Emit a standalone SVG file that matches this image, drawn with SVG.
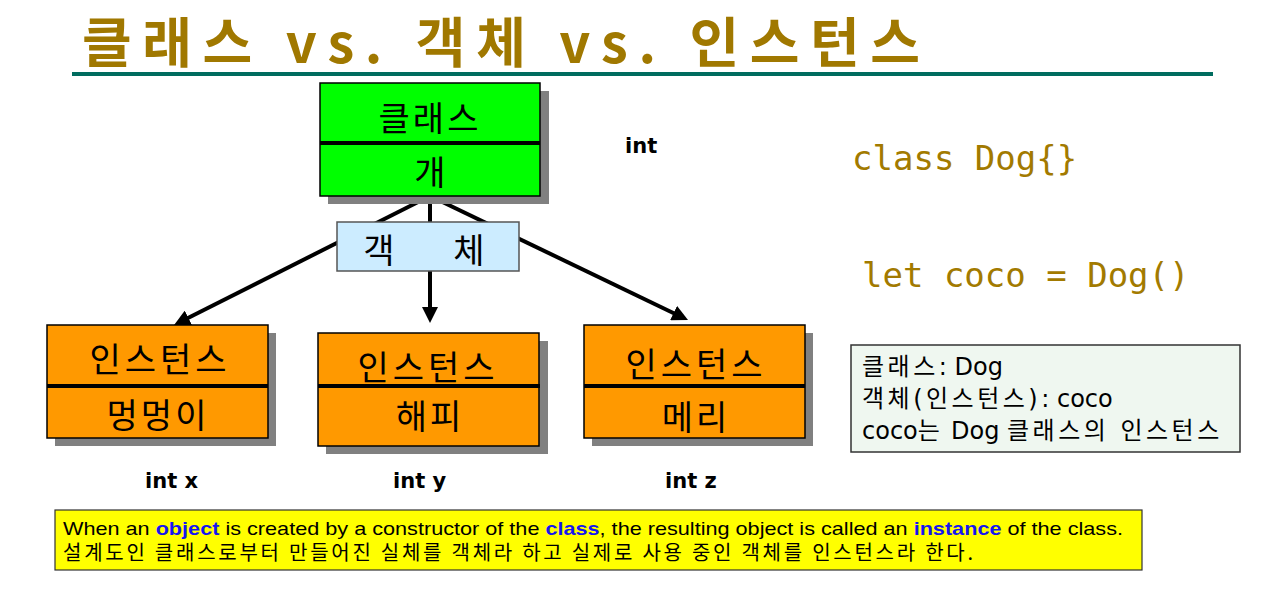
<svg xmlns="http://www.w3.org/2000/svg" width="1273" height="596" viewBox="0 0 1273 596">
<style>
.kr{font-family:"Noto Sans CJK KR","Noto Sans",sans-serif;}
.lbl{font-family:"Noto Sans CJK KR","Noto Sans",sans-serif;font-size:34px;fill:#000;text-anchor:middle;dominant-baseline:central;}
.int{font-family:"DejaVu Sans",sans-serif;font-weight:bold;font-size:21px;fill:#000;}
.code{font-family:"DejaVu Sans Mono","Liberation Mono",monospace;font-size:34px;fill:#A27A00;}
.note{font-family:"DejaVu Sans","Noto Sans CJK KR",sans-serif;font-size:24px;fill:#000;}
.nk{letter-spacing:3.5px;}
.shadow{fill:#808080;}
.orange{fill:#FF9900;stroke:#000;stroke-width:1.5;}
.div{stroke:#000;stroke-width:4;}
.conn{stroke:#000;stroke-width:4;fill:none;}
.hl{fill:#1515F0;font-weight:bold;}
</style>
<defs>
<marker id="arr" markerUnits="userSpaceOnUse" markerWidth="16" markerHeight="16" refX="6" refY="8" orient="auto" viewBox="0 0 16 16">
<path d="M0,0 L16,8 L0,16 z" fill="#000"/>
</marker>
</defs>
<rect width="1273" height="596" fill="#fff"/>
<g id="title">
<text x="82" y="63" class="kr" font-size="54" font-weight="bold" fill="#A07800" textLength="838" lengthAdjust="spacing">클래스 vs. 객체 vs. 인스턴스</text>
<rect x="72" y="72" width="1141" height="4" fill="#006C5F"/>
</g>
<g id="connectors">
<line class="conn" x1="430" y1="196" x2="183" y2="320.5" marker-end="url(#arr)"/>
<line class="conn" x1="430" y1="196" x2="430" y2="313" marker-end="url(#arr)"/>
<line class="conn" x1="430" y1="196" x2="679" y2="315.7" marker-end="url(#arr)"/>
</g>
<g id="class-node">
<rect class="shadow" x="328" y="91" width="221" height="113"/>
<rect x="320" y="83" width="220" height="113" fill="#00FF00" stroke="#000" stroke-width="1.5"/>
<line class="div" x1="320" y1="143" x2="540" y2="143"/>
<text class="lbl" x="430" y="116" letter-spacing="3">클래스</text>
<text class="lbl" x="430" y="170">개</text>
</g>
<g id="object-node">
<rect x="337" y="222" width="182" height="49" fill="#CCECFF" stroke="#555" stroke-width="1.5"/>
<text class="lbl" x="379" y="248">객</text>
<text class="lbl" x="469" y="248">체</text>
</g>
<g id="instance1">
<rect class="shadow" x="55" y="333" width="221" height="113"/>
<rect class="orange" x="47" y="325" width="221" height="113"/>
<line class="div" x1="47" y1="386" x2="268" y2="386"/>
<text class="lbl" x="160" y="357" letter-spacing="4">인스턴스</text>
<text class="lbl" x="158" y="413" letter-spacing="3">멍멍이</text>
</g>
<g id="instance2">
<rect class="shadow" x="326" y="341" width="222" height="113"/>
<rect class="orange" x="318" y="333" width="221" height="113"/>
<line class="div" x1="318" y1="386" x2="540" y2="386"/>
<text class="lbl" x="428" y="365" letter-spacing="4">인스턴스</text>
<text class="lbl" x="430" y="414" letter-spacing="3">해피</text>
</g>
<g id="instance3">
<rect class="shadow" x="592" y="333" width="221" height="113"/>
<rect class="orange" x="584" y="325" width="221" height="113"/>
<line class="div" x1="584" y1="386" x2="805" y2="386"/>
<text class="lbl" x="696" y="362" letter-spacing="4">인스턴스</text>
<text class="lbl" x="696" y="415" letter-spacing="3">메리</text>
</g>
<g id="int-labels">
<text class="int" x="625" y="153">int</text>
<text class="int" x="145" y="488">int x</text>
<text class="int" x="393" y="488">int y</text>
<text class="int" x="665" y="488">int z</text>
</g>
<g id="code">
<text class="code" x="852" y="170">class Dog{}</text>
<text class="code" x="862" y="287">let coco = Dog()</text>
</g>
<g id="note">
<rect x="851" y="345" width="389" height="107" fill="#EFF7F0" stroke="#333" stroke-width="1.5"/>
<text class="note" x="862" y="375"><tspan class="nk">클래스</tspan>: Dog</text>
<text class="note" x="862" y="407"><tspan class="nk">객체(인스턴스)</tspan>: coco</text>
<text class="note" x="862" y="439">coco<tspan class="nk">는</tspan> Dog <tspan class="nk">클래스의 인스턴스</tspan></text>
</g>
<g id="footer">
<rect x="55" y="510" width="1087" height="60" fill="#FFFF00" stroke="#333" stroke-width="1.2"/>
<text x="63" y="535" font-family="'Liberation Sans',sans-serif" font-size="19" fill="#000" textLength="1060" lengthAdjust="spacingAndGlyphs">When an <tspan class="hl">object</tspan> is created by a constructor of the <tspan class="hl">class</tspan>, the resulting object is called an <tspan class="hl">instance</tspan> of the class.</text>
<text x="63" y="560" class="kr" font-size="20" fill="#000" textLength="910" lengthAdjust="spacing">설계도인 클래스로부터 만들어진 실체를 객체라 하고 실제로 사용 중인 객체를 인스턴스라 한다.</text>
</g>
</svg>
